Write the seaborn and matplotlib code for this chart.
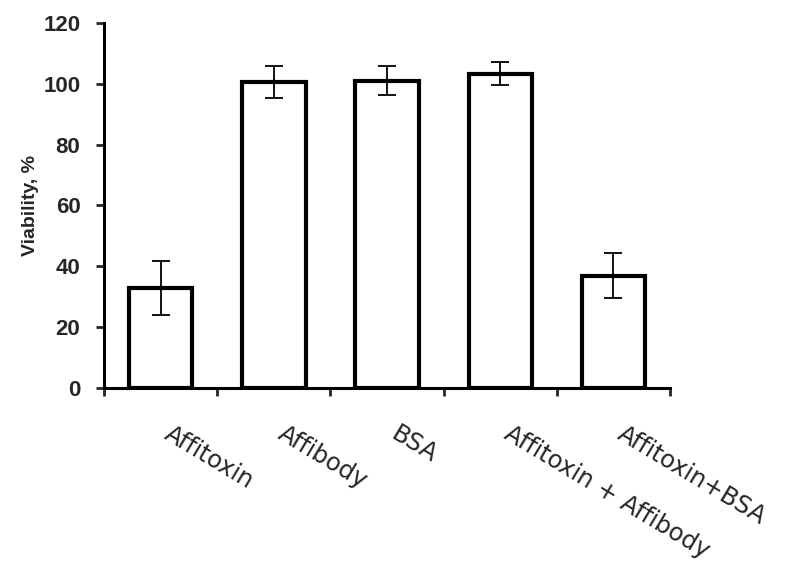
import matplotlib
matplotlib.use("Agg")
import matplotlib.pyplot as plt
import matplotlib.transforms as mtransforms
import seaborn as sns
import pandas as pd
import numpy as np

categories = ["Affitoxin", "Affibody", "BSA", "Affitoxin + Affibody", "Affitoxin+BSA"]
viability = [33, 100.5, 101, 103.3, 37]
errors = [8.9, 5.2, 4.9, 3.8, 7.4]
yticks = [0, 20, 40, 60, 80, 100, 120]

sns.set_style("white")
plt.rcParams["font.family"] = ["Liberation Sans", "DejaVu Sans"]

df = pd.DataFrame({"Condition": categories, "Viability": viability})

fig = plt.figure(figsize=(7.85, 5.64), dpi=100)
ax = fig.add_axes([0.1325, 0.3115, 0.721, 0.6483])

sns.barplot(data=df, x="Condition", y="Viability", order=categories,
            color="white", edgecolor="black", linewidth=3.0, width=0.56,
            errorbar=None, ax=ax, zorder=2)
for p in ax.patches:
    p.set_facecolor("white")
    p.set_joinstyle("miter")

ax.errorbar(np.arange(len(categories)), viability, yerr=errors, fmt="none",
            ecolor="black", elinewidth=1.3, capsize=6.5, capthick=1.3, zorder=3)

ax.set_xlim(-0.5, len(categories) - 0.5)
ax.set_ylim(0, 120)
ax.set_yticks(yticks)
ax.set_yticklabels([str(t) for t in yticks], fontsize=16, fontweight="bold")
ax.tick_params(axis="y", direction="out", length=6, width=2, pad=11, left=True)

ax.set_xticks(np.arange(len(categories)))
ax.set_xticklabels(categories, rotation=-31, ha="left", va="top",
                   rotation_mode="anchor", fontsize=17.5, family="DejaVu Sans")
ax.tick_params(axis="x", which="major", length=0, pad=24)
offset = mtransforms.ScaledTranslation(12 / 100, 0, fig.dpi_scale_trans)
for lbl in ax.get_xticklabels():
    lbl.set_transform(lbl.get_transform() + offset)
ax.set_xticks(np.arange(len(categories) + 1) - 0.5, minor=True)
ax.tick_params(axis="x", which="minor", direction="out", length=6, width=2, bottom=True)

ax.set_xlabel("")
ax.set_ylabel("Viability, %", fontsize=14, fontweight="bold", labelpad=3)

for s in ["top", "right"]:
    ax.spines[s].set_visible(False)
for s in ["left", "bottom"]:
    ax.spines[s].set_linewidth(2.2)
    ax.spines[s].set_color("black")

fig.savefig("out.png", dpi=100, facecolor="white")
